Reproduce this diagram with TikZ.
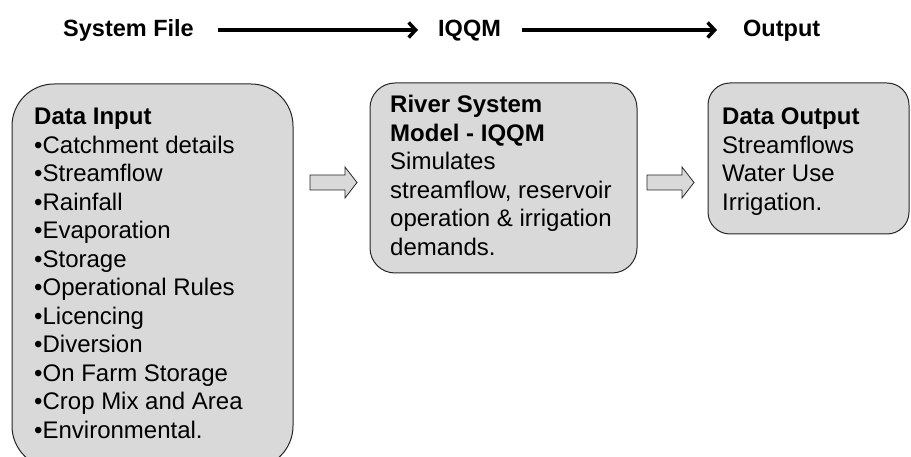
\documentclass[tikz,border=0pt]{standalone}
\usepackage{fontspec}
\setmainfont{Liberation Sans}
\usetikzlibrary{arrows.meta}
\definecolor{boxfill}{HTML}{D9D9D9}
\definecolor{boxline}{HTML}{262626}
\tikzset{
  panel/.style={draw=boxline, fill=boxfill, line width=1pt},
  body/.style={anchor=north west, inner sep=0pt, align=left, font=\fontsize{24}{28.5}\selectfont},
  head/.style={inner sep=0pt, text height=16.8pt, text depth=0pt, font=\fontsize{23.5}{28}\selectfont\bfseries},
  flow/.style={line width=3.5pt, -{Straight Barb[length=7pt,width=15pt,line width=3.5pt]}},
  block/.style={draw=boxline, fill=boxfill, line width=0.8pt, line join=miter}
}
\begin{document}
\begin{tikzpicture}[x=1pt,y=-1pt]
\useasboundingbox (0,0) rectangle (911,457);
% top row
\node[head, anchor=west] (sf) at (63,28.5) {System File};
\node[head, anchor=west] (iq) at (438,28.5) {IQQM};
\node[head, anchor=west] (op) at (743,28.5) {Output};
\draw[flow] ([yshift=-1.5pt,xshift=24pt]sf.east) -- ([yshift=-1.5pt,xshift=-20pt]iq.west);
\draw[flow] ([yshift=-1.5pt,xshift=21pt]iq.east) -- ([yshift=-1.5pt,xshift=-26pt]op.west);
% boxes
\node[panel, rounded corners=42pt, minimum width=281pt, minimum height=384pt, inner sep=0pt] (din) at (152.5,276) {};
\node[panel, rounded corners=25pt, minimum width=267pt, minimum height=190pt, inner sep=0pt] (rsm) at (503.5,178) {};
\node[panel, rounded corners=22pt, minimum width=201pt, minimum height=151pt, inner sep=0pt] (dout) at (808.5,158.5) {};
% texts
\node[body] (dint) at (34,108) {\textbf{Data Input}\\ •Catchment details\\ •Streamflow\\ •Rainfall\\ •Evaporation\\ •Storage\\ •Operational Rules\\ •Licencing\\ •Diversion\\ •On Farm Storage\\ •Crop Mix and Area\\ •Environmental.};
\node[body] (rsmt) at (390,95) {\textbf{River System}\\ \textbf{Model - IQQM}\\ Simulates\\ streamflow, reservoir\\ operation \& irrigation\\ demands.};
\node[body] (doutt) at (722,108) {\textbf{Data Output}\\ Streamflows\\ Water Use\\ Irrigation.};
% block arrows
\coordinate (a1) at (357,182.5);
\coordinate (a2) at (694,182.5);
\draw[block] (a1) -- ++(-12,-15.5) -- ++(0,8) -- ++(-35,0) -- ++(0,15) -- ++(35,0) -- ++(0,8) -- cycle;
\draw[block] (a2) -- ++(-12,-15.5) -- ++(0,8) -- ++(-35,0) -- ++(0,15) -- ++(35,0) -- ++(0,8) -- cycle;
\end{tikzpicture}
\end{document}
